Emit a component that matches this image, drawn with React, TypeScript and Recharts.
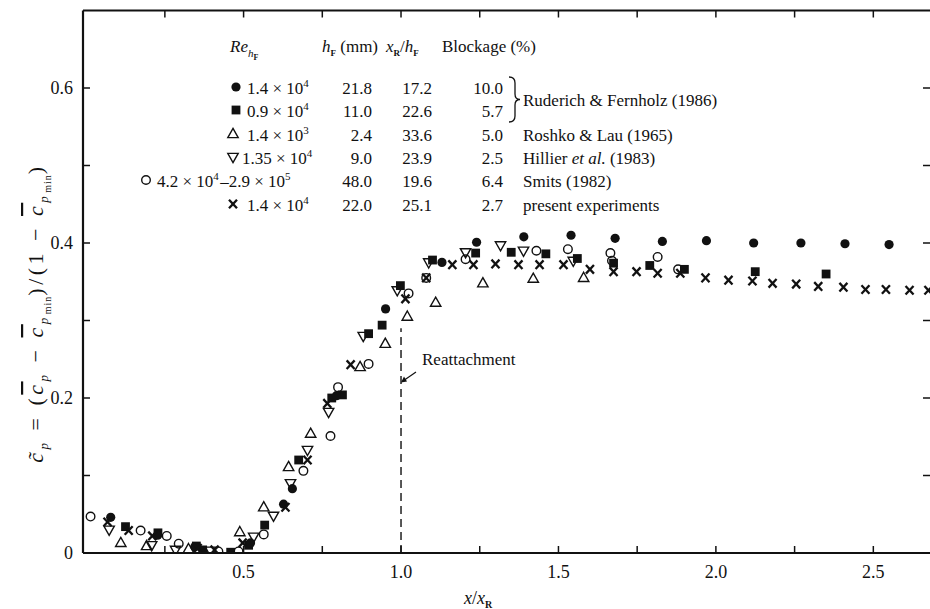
import React from 'react';
import { ScatterChart, Scatter, XAxis, YAxis, ReferenceLine } from 'recharts';

// Normalised pressure recovery  c~p  against  x / xR, one list of [x/xR, c~p] per data set.
const ruderich14: [number, number][] = [
  [0.078, 0.046], [0.227, 0.023], [0.345, 0.008], [0.522, 0.013], [0.627, 0.063],
  [0.655, 0.083], [0.795, 0.203], [0.951, 0.315], [1.13, 0.375], [1.24, 0.401],
  [1.39, 0.408], [1.54, 0.41], [1.68, 0.406], [1.83, 0.402], [1.97, 0.403],
  [2.12, 0.4], [2.27, 0.4], [2.41, 0.399], [2.55, 0.398],
];
const ruderich09: [number, number][] = [
  [0.125, 0.034], [0.228, 0.026], [0.35, 0.009], [0.37, 0.004], [0.459, 0.001],
  [0.516, 0.01], [0.567, 0.036], [0.675, 0.12], [0.78, 0.2], [0.814, 0.204],
  [0.897, 0.283], [0.94, 0.294], [0.998, 0.345], [1.1, 0.378], [1.237, 0.387],
  [1.35, 0.388], [1.46, 0.386], [1.56, 0.38], [1.675, 0.374], [1.79, 0.371],
  [1.9, 0.366], [2.125, 0.363], [2.35, 0.36],
];
const roshkoLau: [number, number][] = [
  [0.11, 0.013], [0.192, 0.009], [0.325, 0.005], [0.488, 0.027], [0.564, 0.059],
  [0.643, 0.111], [0.713, 0.154], [0.87, 0.24], [0.95, 0.27], [1.02, 0.305],
  [1.11, 0.323], [1.26, 0.348], [1.42, 0.354], [1.58, 0.355],
];
const hillier: [number, number][] = [
  [0.073, 0.03], [0.208, 0.01], [0.284, 0.004], [0.395, 0.003], [0.532, 0.021],
  [0.595, 0.048], [0.649, 0.09], [0.703, 0.133], [0.77, 0.182], [0.88, 0.28],
  [0.988, 0.339], [1.088, 0.375], [1.205, 0.388], [1.316, 0.397], [1.389, 0.39],
  [1.547, 0.377],
];
const smits: [number, number][] = [
  [0.014, 0.047], [0.173, 0.029], [0.256, 0.022], [0.294, 0.012], [0.42, 0.002],
  [0.484, 0.002], [0.564, 0.024], [0.69, 0.106], [0.776, 0.151], [0.8, 0.214],
  [0.897, 0.244], [1.024, 0.335], [1.08, 0.355], [1.205, 0.379], [1.43, 0.39],
  [1.53, 0.392], [1.665, 0.387], [1.67, 0.377], [1.815, 0.382], [1.88, 0.366],
];
const present: [number, number][] = [
  [0.068, 0.04], [0.135, 0.029], [0.21, 0.022], [0.354, 0.006], [0.408, 0.004],
  [0.497, 0.013], [0.633, 0.059], [0.703, 0.12], [0.766, 0.193], [0.84, 0.243],
  [1.014, 0.328], [1.08, 0.355], [1.163, 0.372], [1.23, 0.372], [1.3, 0.373],
  [1.373, 0.372], [1.44, 0.372], [1.516, 0.372], [1.6, 0.366], [1.675, 0.363],
  [1.748, 0.363], [1.815, 0.361], [1.887, 0.361], [1.967, 0.355], [2.04, 0.352],
  [2.116, 0.351], [2.18, 0.348], [2.255, 0.347], [2.325, 0.344], [2.405, 0.343],
  [2.475, 0.34], [2.54, 0.34], [2.615, 0.339], [2.675, 0.339],
];

// Axis ticks and their printed labels
const xTicks = [0.25, 0.5, 0.75, 1.0, 1.25, 1.5, 1.75, 2.0, 2.25, 2.5];
const xLabelValues = [0.5, 1.0, 1.5, 2.0, 2.5];
const xLabelTexts = ['0.5', '1.0', '1.5', '2.0', '2.5'];
const yTicks = [0, 0.1, 0.2, 0.3, 0.4, 0.5, 0.6];
const yLabelValues = [0, 0.2, 0.4, 0.6];
const yLabelTexts = ['0', '0.2', '0.4', '0.6'];

const X_DOMAIN: [number, number] = [-0.01, 2.68];
const Y_DOMAIN: [number, number] = [0, 0.7];
const REATTACH_X = 1.0;
const REATTACH_TOP = 0.29;

const FONT = '"Liberation Serif", "DejaVu Serif", serif';
const INK = '#111';

type Kind = 'dot' | 'square' | 'up' | 'down' | 'ring' | 'cross';

function Marker({ kind, cx, cy }: { kind: Kind; cx: number; cy: number }) {
  switch (kind) {
    case 'dot':
      return <circle cx={cx} cy={cy} r={4.6} fill={INK} />;
    case 'square':
      return <rect x={cx - 4.4} y={cy - 4.4} width={8.8} height={8.8} fill={INK} />;
    case 'up':
      return (
        <path
          d={`M${cx},${cy - 5.6} L${cx + 5.2},${cy + 3.6} L${cx - 5.2},${cy + 3.6} Z`}
          fill="none" stroke={INK} strokeWidth={1.4} strokeLinejoin="miter"
        />
      );
    case 'down':
      return (
        <path
          d={`M${cx},${cy + 5.6} L${cx + 5.2},${cy - 3.6} L${cx - 5.2},${cy - 3.6} Z`}
          fill="none" stroke={INK} strokeWidth={1.4}
        />
      );
    case 'ring':
      return <circle cx={cx} cy={cy} r={4.3} fill="none" stroke={INK} strokeWidth={1.4} />;
    case 'cross':
    default:
      return (
        <g stroke={INK} strokeWidth={2.3} strokeLinecap="butt">
          <line x1={cx - 4} y1={cy - 4.3} x2={cx + 4} y2={cy + 4.3} />
          <line x1={cx - 4} y1={cy + 4.3} x2={cx + 4} y2={cy - 4.3} />
        </g>
      );
  }
}

const toPoints = (rows: [number, number][]) => rows.map(([x, y]) => ({ x, y }));

const series: { name: string; kind: Kind; rows: [number, number][] }[] = [
  { name: 'Roshko & Lau (1965)', kind: 'up', rows: roshkoLau },
  { name: 'Hillier et al. (1983)', kind: 'down', rows: hillier },
  { name: 'Smits (1982)', kind: 'ring', rows: smits },
  { name: 'Ruderich & Fernholz 0.9e4', kind: 'square', rows: ruderich09 },
  { name: 'Ruderich & Fernholz 1.4e4', kind: 'dot', rows: ruderich14 },
  { name: 'present experiments', kind: 'cross', rows: present },
];

const TICK_LEN = 7;

function labelFor(v: number, values: number[], texts: string[]) {
  const i = values.findIndex((t) => Math.abs(t - v) < 1e-6);
  return i >= 0 ? texts[i] : null;
}

function BottomTick(p: any) {
  const v = p.payload.value as number;
  const t = labelFor(v, xLabelValues, xLabelTexts);
  return (
    <g>
      <line x1={p.x} y1={p.y} x2={p.x} y2={p.y - TICK_LEN} stroke={INK} strokeWidth={1.5} />
      {t && (
        <text x={p.x} y={p.y + 25} textAnchor="middle" fontFamily={FONT} fontSize={18} fill={INK}>
          {t}
        </text>
      )}
    </g>
  );
}

function TopTick(p: any) {
  return <line x1={p.x} y1={p.y} x2={p.x} y2={p.y + TICK_LEN} stroke={INK} strokeWidth={1.5} />;
}

function LeftTick(p: any) {
  const v = p.payload.value as number;
  const t = labelFor(v, yLabelValues, yLabelTexts);
  return (
    <g>
      <line x1={p.x} y1={p.y} x2={p.x + TICK_LEN} y2={p.y} stroke={INK} strokeWidth={1.5} />
      {t && (
        <text x={p.x - 10} y={p.y + 6} textAnchor="end" fontFamily={FONT} fontSize={18} fill={INK}>
          {t}
        </text>
      )}
    </g>
  );
}

function RightTick(p: any) {
  return <line x1={p.x} y1={p.y} x2={p.x - TICK_LEN} y2={p.y} stroke={INK} strokeWidth={1.5} />;
}

function Sup({ children }: { children: React.ReactNode }) {
  return (
    <>
      <tspan dy={-7} fontSize={11}>{children}</tspan>
      <tspan dy={7}>{'\u200A'}</tspan>
    </>
  );
}

// Table of data sets drawn over the plot
const legendRows: {
  kind: Kind; mx: number; reX: number; re: React.ReactNode;
  h: string; xr: string; block: string; src: React.ReactNode | null;
}[] = [
  { kind: 'dot', mx: 236, reX: 247, re: <>1.4 × 10<Sup>4</Sup></>, h: '21.8', xr: '17.2', block: '10.0', src: null },
  { kind: 'square', mx: 236, reX: 247, re: <>0.9 × 10<Sup>4</Sup></>, h: '11.0', xr: '22.6', block: '5.7', src: null },
  { kind: 'up', mx: 233, reX: 247, re: <>1.4 × 10<Sup>3</Sup></>, h: '2.4', xr: '33.6', block: '5.0', src: <>Roshko &amp; Lau (1965)</> },
  { kind: 'down', mx: 233, reX: 242, re: <>1.35 × 10<Sup>4</Sup></>, h: '9.0', xr: '23.9', block: '2.5', src: <>Hillier <tspan fontStyle="italic">et al.</tspan> (1983)</> },
  { kind: 'ring', mx: 146, reX: 157, re: <>4.2 × 10<Sup>4</Sup>–2.9 × 10<Sup>5</Sup></>, h: '48.0', xr: '19.6', block: '6.4', src: <>Smits (1982)</> },
  { kind: 'cross', mx: 233, reX: 247, re: <>1.4 × 10<Sup>4</Sup></>, h: '22.0', xr: '25.1', block: '2.7', src: <>present experiments</> },
];
const rowY = [88, 111, 135, 158, 181, 205];

// italic c carrying an overbar
function CBar() {
  return <tspan fontStyle="italic" textDecoration="overline">c</tspan>;
}

function Overlay() {
  const fs = 17;
  return (
    <svg
      width={930} height={609}
      style={{ position: 'absolute', left: 0, top: 0, pointerEvents: 'none' }}
      fontFamily={FONT} fill={INK}
    >
      {/* header */}
      <text y={52} fontSize={fs}>
        <tspan x={230} fontStyle="italic">Re</tspan>
        <tspan dy={5} fontSize={11} fontStyle="italic">h</tspan>
        <tspan dy={3} fontSize={8} fontWeight="bold">F</tspan>
        <tspan dy={-8} x={322} fontStyle="italic">h</tspan>
        <tspan dy={4} fontSize={9} fontWeight="bold">F</tspan>
        <tspan dy={-4}> (mm)</tspan>
        <tspan x={386} fontStyle="italic">x</tspan>
        <tspan dy={4} fontSize={9} fontWeight="bold">R</tspan>
        <tspan dy={-4}>/</tspan>
        <tspan fontStyle="italic">h</tspan>
        <tspan dy={4} fontSize={9} fontWeight="bold">F</tspan>
        <tspan dy={-4} x={442}>Blockage (%)</tspan>
      </text>

      {legendRows.map((r, i) => {
        const y = rowY[i];
        return (
          <g key={i}>
            <Marker kind={r.kind} cx={r.mx} cy={y - 1} />
            <text x={r.reX} y={y + 6} fontSize={fs}>{r.re}</text>
            <text x={372} y={y + 6} fontSize={fs} textAnchor="end">{r.h}</text>
            <text x={432} y={y + 6} fontSize={fs} textAnchor="end">{r.xr}</text>
            <text x={503} y={y + 6} fontSize={fs} textAnchor="end">{r.block}</text>
            {r.src && <text x={523} y={y + 6} fontSize={fs}>{r.src}</text>}
          </g>
        );
      })}
      {/* brace joining the two Ruderich & Fernholz rows */}
      <path
        d="M509,77 Q515,77 515,83 L515,94 Q515,99.5 520,99.5 Q515,99.5 515,105 L515,116 Q515,122 509,122"
        fill="none" stroke={INK} strokeWidth={1.3}
      />
      <text x={523} y={106} fontSize={fs}>Ruderich &amp; Fernholz (1986)</text>

      {/* reattachment annotation */}
      <text x={422} y={365} fontSize={fs}>Reattachment</text>
      <line x1={416} y1={372} x2={403} y2={381} stroke={INK} strokeWidth={1.2} />
      <path d="M401,382.5 L404,376.5 L407,381.5 Z" fill={INK} />

      {/* axis titles */}
      <text x={478} y={604} fontSize={18} textAnchor="middle">
        <tspan fontStyle="italic">x</tspan>
        <tspan>/</tspan>
        <tspan fontStyle="italic">x</tspan>
        <tspan dy={4} fontSize={10} fontWeight="bold">R</tspan>
      </text>
      <text
        transform="translate(43,313) rotate(-90)" fontSize={22} textAnchor="middle"
        letterSpacing={3.5}
      >
        <tspan fontStyle="italic">{'c\u0303'}</tspan>
        <tspan dy={5} fontSize={13} fontStyle="italic">p</tspan>
        <tspan dy={-5}>{'  =  ('}</tspan>
        <CBar />
        <tspan dy={5} fontSize={13} fontStyle="italic">p</tspan>
        <tspan dy={-5}>{'  −  '}</tspan>
        <CBar />
        <tspan dy={5} fontSize={13} fontStyle="italic">p</tspan>
        <tspan dy={3} fontSize={10} letterSpacing={1}>min</tspan>
        <tspan dy={-8}>{')/(1  −  '}</tspan>
        <CBar />
        <tspan dy={5} fontSize={13} fontStyle="italic">p</tspan>
        <tspan dy={3} fontSize={10} letterSpacing={1}>min</tspan>
        <tspan dy={-8}>)</tspan>
      </text>
    </svg>
  );
}

export default function App() {
  return (
    <div
      style={{
        position: 'absolute', left: 0, top: 0, width: 930, height: 609,
        overflow: 'hidden', background: '#fff',
      }}
    >
      <ScatterChart
        width={931}
        height={609}
        margin={{ top: 9.5, right: 0, bottom: 55, left: 82 }}
      >
        <XAxis
          xAxisId="bottom" type="number" dataKey="x" orientation="bottom"
          domain={X_DOMAIN} ticks={xTicks} interval={0} height={1}
          tickSize={0} tickMargin={0} tick={BottomTick}
          axisLine={{ stroke: INK, strokeWidth: 2 }} allowDataOverflow
        />
        <XAxis
          xAxisId="top" type="number" dataKey="x" orientation="top"
          domain={X_DOMAIN} ticks={xTicks} interval={0} height={1}
          tickSize={0} tickMargin={0} tick={TopTick}
          axisLine={{ stroke: INK, strokeWidth: 2 }} allowDataOverflow
        />
        <YAxis
          yAxisId="left" type="number" dataKey="y" orientation="left"
          domain={Y_DOMAIN} ticks={yTicks} interval={0} width={1}
          tickSize={0} tickMargin={0} tick={LeftTick}
          axisLine={{ stroke: INK, strokeWidth: 2.2 }} allowDataOverflow
        />
        <YAxis
          yAxisId="right" type="number" dataKey="y" orientation="right"
          domain={Y_DOMAIN} ticks={yTicks} interval={0} width={1}
          tickSize={0} tickMargin={0} tick={RightTick}
          axisLine={false} allowDataOverflow
        />
        <ReferenceLine
          xAxisId="bottom" yAxisId="left"
          segment={[{ x: REATTACH_X, y: 0 }, { x: REATTACH_X, y: REATTACH_TOP }]}
          stroke={INK} strokeWidth={1.4} strokeDasharray="8 5"
        />
        {/* the top/right axes share the same scales; a hidden copy keeps them bound to data */}
        <Scatter
          xAxisId="top" yAxisId="right" data={toPoints(present)}
          isAnimationActive={false} shape={() => <g />} legendType="none"
        />
        {series.map((s) => (
          <Scatter
            key={s.name}
            name={s.name}
            xAxisId="bottom"
            yAxisId="left"
            data={toPoints(s.rows)}
            isAnimationActive={false}
            shape={(p: any) => <Marker kind={s.kind} cx={p.cx} cy={p.cy} />}
          />
        ))}
      </ScatterChart>
      <Overlay />
    </div>
  );
}
